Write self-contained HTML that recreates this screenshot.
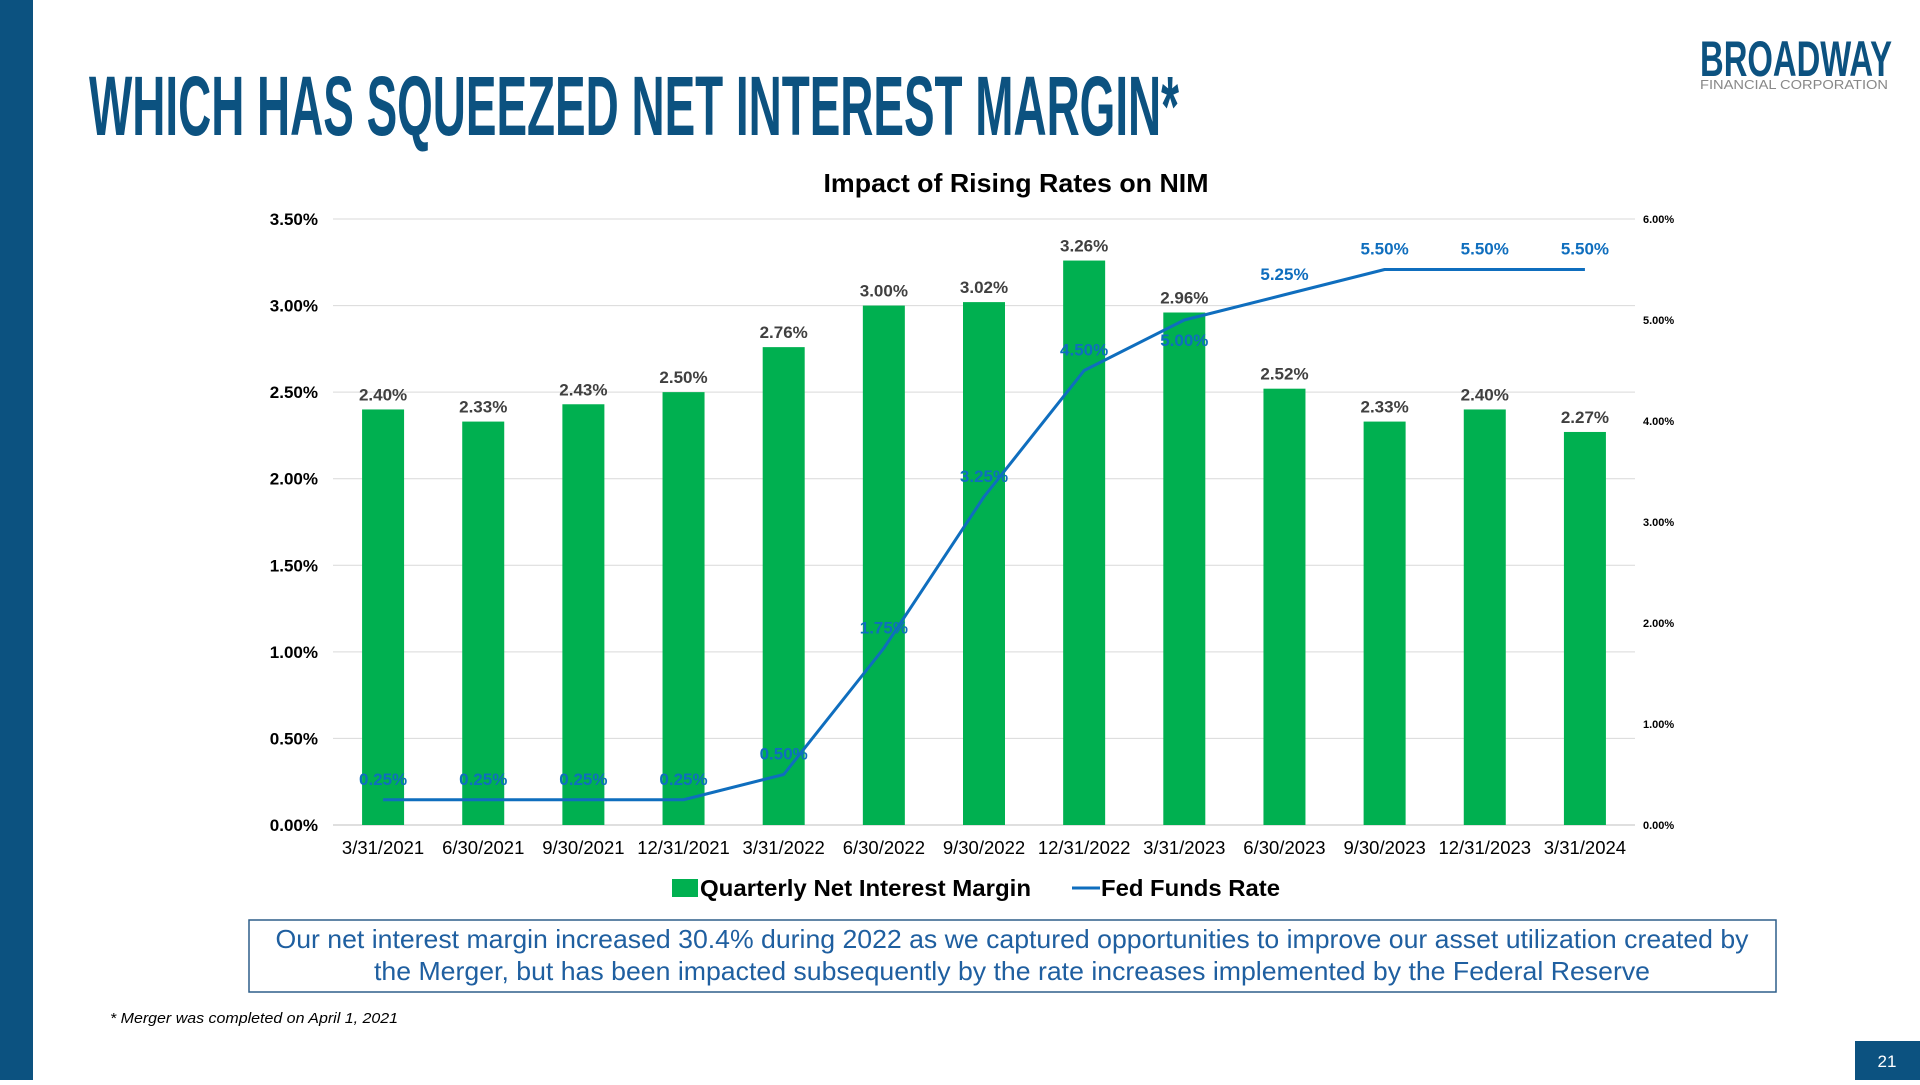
<!DOCTYPE html>
<html><head><meta charset="utf-8"><style>
html,body{margin:0;padding:0;background:#fff;}
body{width:1920px;height:1080px;position:relative;overflow:hidden;font-family:"Liberation Sans",sans-serif;}
</style></head><body>
<svg width="1920" height="1080" viewBox="0 0 1920 1080" xmlns="http://www.w3.org/2000/svg" font-family="Liberation Sans, sans-serif">
<rect x="0" y="0" width="33" height="1080" fill="#0c5280"/>
<text x="89" y="135" font-size="84" font-weight="bold" fill="#0c5280" textLength="1090" lengthAdjust="spacingAndGlyphs">WHICH HAS SQUEEZED NET INTEREST MARGIN*</text>
<g>
<text x="1700" y="76" font-size="50" font-weight="bold" fill="#0c5280" textLength="192" lengthAdjust="spacingAndGlyphs">BROADWAY</text>
<text x="1700" y="89" font-size="13" fill="#888" textLength="188" lengthAdjust="spacingAndGlyphs">FINANCIAL CORPORATION</text>
</g>
<text x="1016" y="192" font-size="26" font-weight="bold" fill="#000" text-anchor="middle" textLength="385" lengthAdjust="spacingAndGlyphs">Impact of Rising Rates on NIM</text>
<g id="chart"></g>
<g>
<rect x="672" y="879" width="26" height="18" fill="#00b050"/>
<text x="700" y="896" font-size="23" font-weight="bold" fill="#000" textLength="331" lengthAdjust="spacingAndGlyphs">Quarterly Net Interest Margin</text>
<line x1="1072" y1="888" x2="1100" y2="888" stroke="#0f6ebe" stroke-width="3"/>
<text x="1101" y="896" font-size="23" font-weight="bold" fill="#000" textLength="179" lengthAdjust="spacingAndGlyphs">Fed Funds Rate</text>
</g>
<rect x="249" y="920" width="1527" height="72" fill="#fff" stroke="#2e5f8a" stroke-width="1.5"/>
<text x="1012" y="948" font-size="26" fill="#1f5fa0" text-anchor="middle" textLength="1473" lengthAdjust="spacingAndGlyphs">Our net interest margin increased 30.4% during 2022 as we captured opportunities to improve our asset utilization created by</text>
<text x="1012" y="980" font-size="26" fill="#1f5fa0" text-anchor="middle" textLength="1276" lengthAdjust="spacingAndGlyphs">the Merger, but has been impacted subsequently by the rate increases implemented by the Federal Reserve</text>
<text x="110" y="1023" font-size="15" font-style="italic" fill="#000" textLength="288" lengthAdjust="spacingAndGlyphs">* Merger was completed on April 1, 2021</text>
<rect x="1855" y="1041" width="65" height="39" fill="#0c5280"/>
<text x="1887" y="1067" font-size="17" fill="#fff" text-anchor="middle">21</text>
</svg>
<script>
const categories=["3/31/2021","6/30/2021","9/30/2021","12/31/2021","3/31/2022","6/30/2022","9/30/2022","12/31/2022","3/31/2023","6/30/2023","9/30/2023","12/31/2023","3/31/2024"];
const nimValues=[2.40,2.33,2.43,2.50,2.76,3.00,3.02,3.26,2.96,2.52,2.33,2.40,2.27];
const fedValues=[0.25,0.25,0.25,0.25,0.50,1.75,3.25,4.50,5.00,5.25,5.50,5.50,5.50];
const leftTicks=[0,0.5,1,1.5,2,2.5,3,3.5];
const rightTicks=[0,1,2,3,4,5,6];
const fedLabelBelow=[false,false,false,false,false,false,false,false,true,false,false,false,false];

const NS="http://www.w3.org/2000/svg";
const g=document.getElementById('chart');
const X0=333,X1=1635,Y0=825,Y1=219;
const step=(X1-X0)/categories.length;
const xC=i=>X0+step*(i+0.5);
const yL=v=>Y0-(v/3.5)*(Y0-Y1);
const yR=v=>Y0-(v/6)*(Y0-Y1);
function mk(tag,attrs,text){const e=document.createElementNS(NS,tag);for(const k in attrs)e.setAttribute(k,attrs[k]);if(text!==undefined)e.textContent=text;g.appendChild(e);return e;}
leftTicks.forEach(t=>{
  const l=mk('line',{x1:X0,x2:X1,y1:yL(t),y2:yL(t),stroke:t===0?'#bfbfbf':'#d9d9d9','stroke-width':1});
  
  
  const tx=mk('text',{x:318,y:yL(t)+6,'font-size':17,'font-weight':'bold','text-anchor':'end',fill:'#000'},t.toFixed(2)+'%');
  
  
});
rightTicks.forEach(t=>{
  const tx=mk('text',{x:1643,y:yR(t)+4,'font-size':11,'font-weight':'bold',fill:'#000'},t.toFixed(2)+'%');
  
  
});
categories.forEach((c,i)=>{
  const tx=mk('text',{x:xC(i),y:854,'font-size':18.5,'text-anchor':'middle',fill:'#000'},c);
  
  
});
const bw=42;
nimValues.forEach((v,i)=>{
  const r=mk('rect',{x:xC(i)-bw/2,y:yL(v),width:bw,height:Y0-yL(v),fill:'#00b050'});
  
  
  const t=mk('text',{x:xC(i),y:yL(v)-9,'font-size':17,'font-weight':'bold','text-anchor':'middle',fill:'#404040'},v.toFixed(2)+'%');
  
  
});
const pts=fedValues.map((v,i)=>xC(i)+','+yR(v)).join(' ');
const pl=mk('polyline',{points:pts,fill:'none',stroke:'#0f6ebe','stroke-width':3,'stroke-linejoin':'round'});


fedValues.forEach((v,i)=>{
  const y=fedLabelBelow[i]?yR(v)+26:yR(v)-15;
  const t=mk('text',{x:xC(i),y:y,'font-size':17,'font-weight':'bold','text-anchor':'middle',fill:'#0f6ebe'},v.toFixed(2)+'%');
  
  
});
</script>
</body></html>
